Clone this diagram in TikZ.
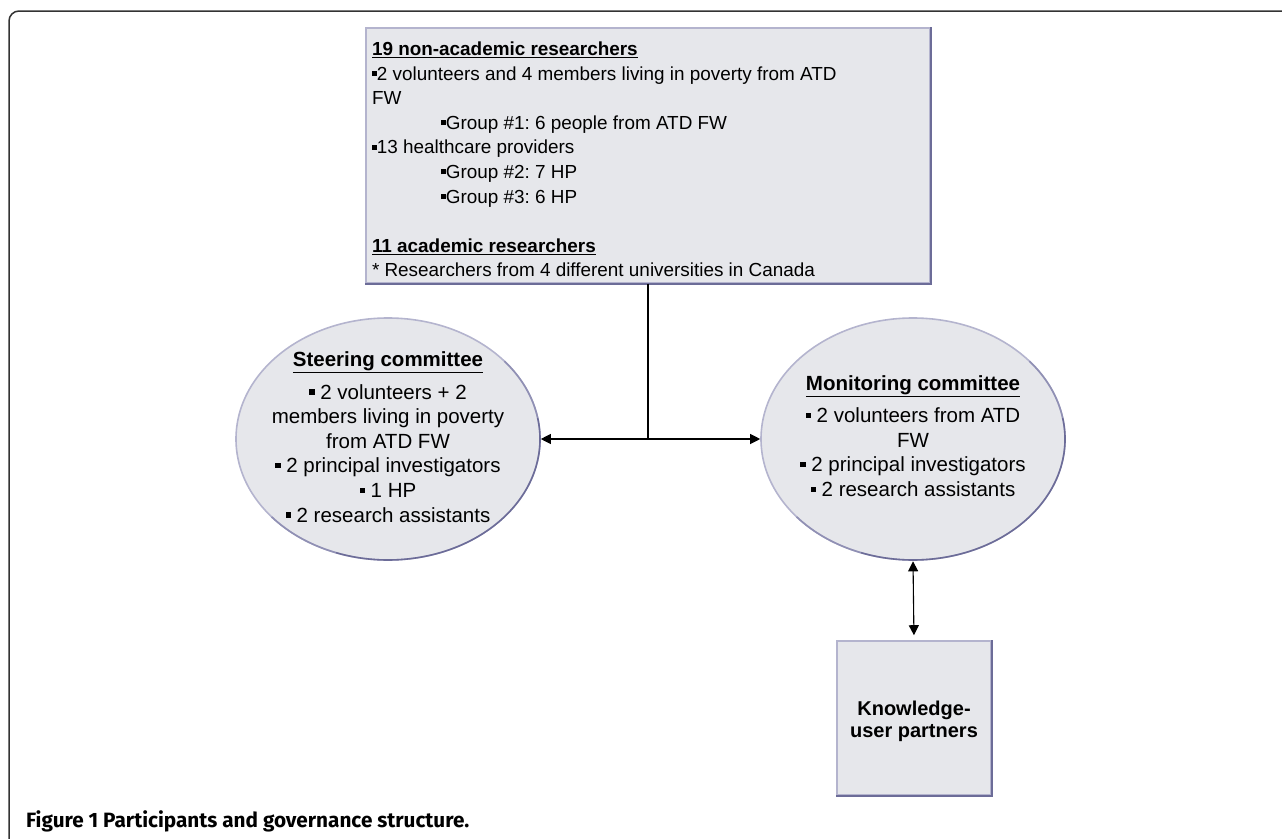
\documentclass[tikz,border=0pt]{standalone}
\usepackage{fontspec}
\setmainfont{Liberation Sans}
\newfontfamily\capfont{Fira Sans}
\usetikzlibrary{shapes.geometric,arrows.meta,positioning,calc}
\definecolor{boxfill}{HTML}{E6E7EB}
\definecolor{lightb}{HTML}{B4B4CE}
\definecolor{midb}{HTML}{9090B4}
\definecolor{darkb}{HTML}{6C6C98}
\definecolor{framec}{HTML}{333333}
\frenchspacing
\newcommand\sqb{\raisebox{0.22em}{\rule{0.26em}{0.26em}}}
\newcommand\ul[1]{\underline{\textbf{#1}}}
\newcommand\lowerby[2]{\raisebox{-#1}[\height][\depth]{#2}}
\tikzset{
  shapebox/.style={fill=boxfill, draw=lightb, line width=1.6pt, inner sep=0pt},
  committee/.style={shapebox, ellipse, minimum width=304pt, minimum height=242pt},
  committeetext/.style={align=center, inner sep=0pt, font=\fontsize{20.5}{24.6}\selectfont},
  darkedge/.style={draw=darkb, line width=1.6pt},
  midedge/.style={draw=midb, line width=1.6pt},
  conn/.style={line width=1.1pt, black},
  tip/.style={{Triangle[length=10pt,width=10pt]}-{Triangle[length=10pt,width=10pt]}},
  onetip/.style={-{Triangle[length=10pt,width=10pt]}}
}
\begin{document}
\begin{tikzpicture}[x=1pt,y=-1pt]
\useasboundingbox (0,0) rectangle (1282,838);
% outer frame
\draw[framec, line width=1.5pt, rounded corners=10pt] (9,845) -- (9,11) -- (1290,11);
% top box
\node[shapebox, rectangle, minimum width=564pt, minimum height=255pt,
  font=\fontsize{18.9}{24.6}\selectfont] (top) at (648,155.5) {\lowerby{4pt}{\begin{minipage}{552pt}\raggedright
\ul{19 non-academic researchers}\\
\sqb2 volunteers and 4 members living in poverty from ATD\\
FW\\
\hspace*{69pt}\sqb Group \#1: 6 people from ATD FW\\
\sqb13 healthcare providers\\
\hspace*{69pt}\sqb Group \#2: 7 HP\\
\hspace*{69pt}\sqb Group \#3: 6 HP\\[24.6pt]
\ul{11 academic researchers}\\
{*} Researchers from 4 different universities in Canada\end{minipage}}};
\draw[darkedge] (top.north east) -- (top.south east) -- (top.south west);
% ellipses
\node[committee] (steer) at (388,439) {};
\node[committee] (monit) at (913,439) {};
\foreach \cx in {388, 913}{
  \draw[midedge] (\cx,439) ++(-40:152 and 121) arc[start angle=-40, end angle=-10, x radius=152, y radius=121];
  \draw[darkedge] (\cx,439) ++(-10:152 and 121) arc[start angle=-10, end angle=110, x radius=152, y radius=121];
  \draw[midedge] (\cx,439) ++(110:152 and 121) arc[start angle=110, end angle=140, x radius=152, y radius=121];
}
\node[committeetext] (steer-t) at ([yshift=2pt]steer.center) {%
\ul{Steering committee}\\[8pt]
\sqb{} 2 volunteers + 2\\
members living in poverty\\
from ATD FW\\
\sqb{} 2 principal investigators\\
\sqb{} 1 HP\\
\sqb{} 2 research assistants};
\node[committeetext] (monit-t) at ([yshift=3pt]monit.center) {%
\ul{Monitoring committee}\\[8pt]
\sqb{} 2 volunteers from ATD\\
FW\\
\sqb{} 2 principal investigators\\
\sqb{} 2 research assistants};
% knowledge box
\node[shapebox, rectangle, minimum width=154pt, minimum height=154pt,
  font=\bfseries\fontsize{20}{22}\selectfont] (know) at (914,718) {\lowerby{4pt}{\begin{tabular}{@{}c@{}}Knowledge-\\user partners\end{tabular}}};
\draw[darkedge] (know.north east) -- (know.south east) -- (know.south west);
% connectors
\coordinate (j) at (648,439);
\draw[conn] (top.south) -- (j);
\draw[conn, onetip] (j) -- (steer.east);
\draw[conn, onetip] (j) -- (monit.west);
\draw[conn, tip, shorten <=0.5pt, shorten >=5pt] (monit.south) -- (know.north);
% caption
\node[anchor=west, inner sep=0pt, font=\capfont\bfseries] (cap) at (26,821) {\resizebox{443pt}{!}{Figure 1 Participants and governance structure.}};
\end{tikzpicture}
\end{document}
